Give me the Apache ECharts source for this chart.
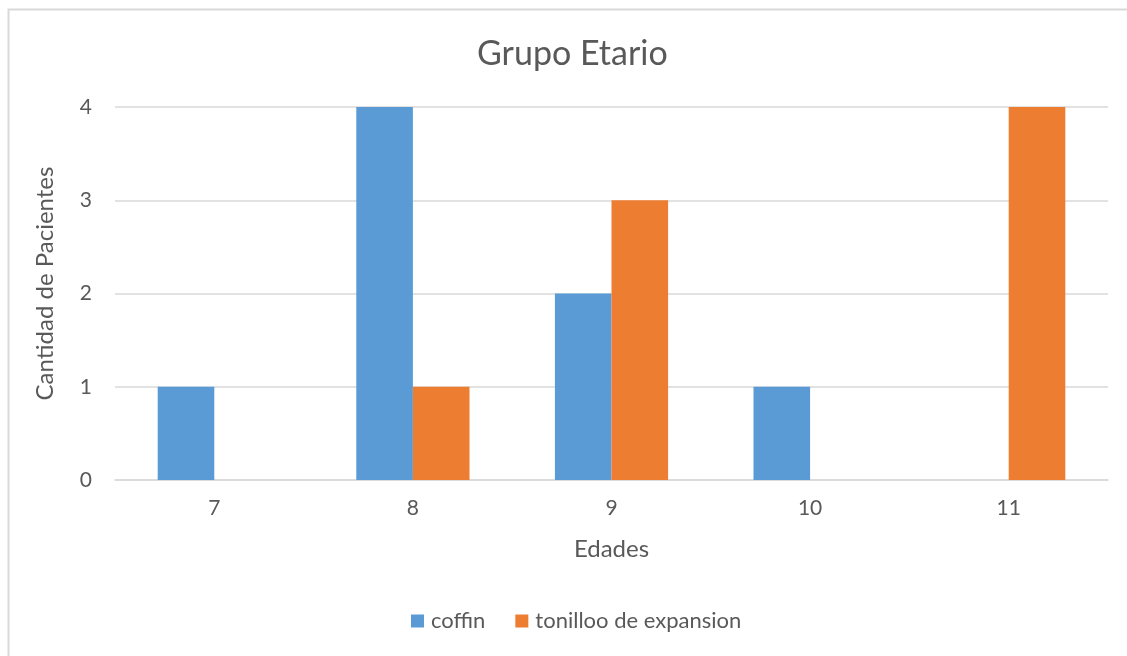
<!DOCTYPE html>
<html>
<head>
<meta charset="utf-8">
<script src="https://cdn.jsdelivr.net/npm/echarts@6/dist/echarts.min.js"></script>
<style>html,body{margin:0;padding:0;background:#fff;}#c{width:1127px;height:656px;}</style>
</head>
<body>
<div id="c"></div>
<script>
const categories = ['7', '8', '9', '10', '11'];
const coffin = [1, 4, 2, 1, 0];
const tornillo = [0, 1, 3, 0, 4];
const seriesNames = ['coffin', 'tonilloo de expansion'];
const yTicks = [0, 1, 2, 3, 4];

const txt = '#595959';
const font = 'Lato, "Open Sans", sans-serif';
const chart = echarts.init(document.getElementById('c'));
chart.setOption({
  backgroundColor: '#fff',
  animation: false,
  graphic: [{
    type: 'rect', left: 6, top: 7, shape: { width: 1200, height: 700 },
    style: { fill: 'none', stroke: '#d9d9d9', lineWidth: 2 }, silent: true
  }],
  title: {
    text: 'Grupo Etario', left: 472, top: 32,
    textStyle: { color: txt, fontSize: 34, fontWeight: 'normal', fontFamily: font }
  },
  legend: {
    top: 605, left: 406, itemWidth: 13, itemHeight: 13, itemGap: 30,
    icon: 'rect',
    textStyle: { color: txt, fontSize: 22, fontFamily: font, padding: [0, 0, 0, 2] },
    data: seriesNames
  },
  grid: { left: 115, right: 19, top: 107, bottom: 176 },
  xAxis: {
    type: 'category', data: categories,
    name: 'Edades', nameLocation: 'middle', nameGap: 57,
    nameTextStyle: { color: txt, fontSize: 24, fontFamily: font },
    axisLine: { lineStyle: { color: '#d9d9d9', width: 1.5 } },
    axisTick: { show: false },
    axisLabel: { color: txt, fontSize: 21, margin: 18, fontFamily: font }
  },
  yAxis: {
    type: 'value', min: yTicks[0], max: yTicks[yTicks.length - 1], interval: 1,
    name: 'Cantidad de Pacientes', nameLocation: 'middle', nameGap: 58,
    nameTextStyle: { color: txt, fontSize: 24, fontFamily: font, padding: [0, 0, 0, 20] },
    axisLine: { show: false }, axisTick: { show: false },
    axisLabel: { color: txt, fontSize: 21, margin: 23, fontFamily: font },
    splitLine: { lineStyle: { color: '#d9d9d9', width: 1.5 } }
  },
  series: [
    { name: seriesNames[0], type: 'bar', data: coffin, itemStyle: { color: '#5B9BD5' },
      barGap: '0%', barCategoryGap: '43%' },
    { name: seriesNames[1], type: 'bar', data: tornillo, itemStyle: { color: '#ED7D31' },
      barGap: '0%', barCategoryGap: '43%' }
  ]
});
</script>
</body>
</html>
